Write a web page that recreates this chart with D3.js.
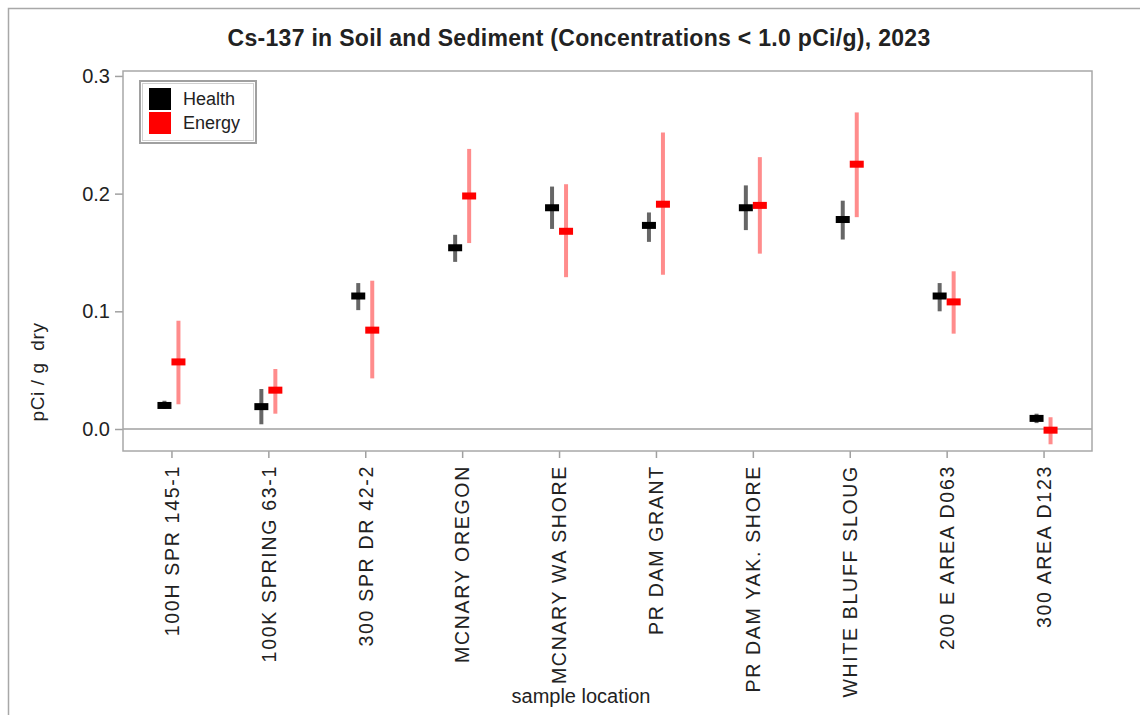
<!DOCTYPE html>
<html>
<head>
<meta charset="utf-8">
<script src="https://cdn.jsdelivr.net/npm/d3@7"></script>
<style>
  body { margin: 0; background: #fff; }
  text { font-family: "Liberation Sans", Arial, sans-serif; fill: #222; }
</style>
</head>
<body>
<div id="wrapper"></div>
<script>
// data
const locations = ["100H SPR 145-1", "100K SPRING 63-1", "300 SPR DR 42-2", "MCNARY OREGON",
  "MCNARY WA SHORE", "PR DAM GRANT", "PR DAM YAK. SHORE", "WHITE BLUFF SLOUG",
  "200 E AREA D063", "300 AREA D123"];
const healthValue = [0.020, 0.019, 0.113, 0.154, 0.188, 0.173, 0.188, 0.178, 0.113, 0.009];
const healthLow   = [0.017, 0.004, 0.101, 0.142, 0.170, 0.159, 0.169, 0.161, 0.100, 0.005];
const healthHigh  = [0.024, 0.034, 0.124, 0.165, 0.206, 0.184, 0.207, 0.194, 0.124, 0.013];
const energyValue = [0.057, 0.033, 0.084, 0.198, 0.168, 0.191, 0.190, 0.225, 0.108, -0.001];
const energyLow   = [0.021, 0.013, 0.043, 0.158, 0.129, 0.131, 0.149, 0.180, 0.081, -0.013];
const energyHigh  = [0.092, 0.051, 0.126, 0.238, 0.208, 0.252, 0.231, 0.269, 0.134, 0.010];
const yTicks = [0.0, 0.1, 0.2, 0.3];

const series = [
  { name: "Health", value: healthValue, low: healthLow, high: healthHigh, color: "#000000", bar: "rgba(0,0,0,0.6)", offset: -7 },
  { name: "Energy", value: energyValue, low: energyLow, high: energyHigh, color: "#ff0000", bar: "rgba(255,0,0,0.45)", offset: 7 }
];

const dimension = {
  width: 1140,
  height: 715,
  margin: { top: 71, left: 123, bottom: 264, right: 48 }
};
dimension.boundedWidth = dimension.width - dimension.margin.left - dimension.margin.right;
dimension.boundedHeight = dimension.height - dimension.margin.top - dimension.margin.bottom;

const wrapper = d3.select("#wrapper")
  .append("svg")
  .attr("width", dimension.width)
  .attr("height", dimension.height);

// outer frame
wrapper.append("path")
  .attr("d", `M8.5,${dimension.height} V8.5 H${dimension.width}`)
  .attr("fill", "none")
  .attr("stroke", "#a8a8a8")
  .attr("stroke-width", 1.5);

wrapper.append("text")
  .attr("x", 579)
  .attr("y", 46)
  .attr("text-anchor", "middle")
  .attr("font-weight", "bold")
  .attr("font-size", "23px")
  .attr("letter-spacing", "0.3px")
  .text("Cs-137 in Soil and Sediment (Concentrations < 1.0 pCi/g), 2023");

const bounds = wrapper.append("g")
  .attr("transform", `translate(${dimension.margin.left},${dimension.margin.top})`);

const xScaler = d3.scalePoint()
  .domain(locations)
  .range([0, dimension.boundedWidth])
  .padding(0.5);

const yScaler = d3.scaleLinear()
  .domain([-0.0187, 0.3042])
  .range([dimension.boundedHeight, 0]);

// zero reference line
bounds.append("line")
  .attr("x1", 0)
  .attr("x2", dimension.boundedWidth)
  .attr("y1", yScaler(0))
  .attr("y2", yScaler(0))
  .attr("stroke", "#a0a0a0")
  .attr("stroke-width", 1.5);

// axes
const yAxis = bounds.append("g")
  .call(d3.axisLeft(yScaler).tickValues(yTicks).tickFormat(d3.format(".1f")).tickSize(8).tickPadding(5));
const xAxis = bounds.append("g")
  .attr("transform", `translate(0,${dimension.boundedHeight})`)
  .call(d3.axisBottom(xScaler).tickSize(7).tickPadding(8));

[yAxis, xAxis].forEach(ax => {
  ax.select(".domain").remove();
  ax.selectAll(".tick line").attr("stroke", "#a0a0a0").attr("stroke-width", 1.5);
  ax.selectAll("text").attr("fill", "#222").attr("font-family", "Liberation Sans, Arial, sans-serif");
});
yAxis.selectAll("text").attr("font-size", "20px");
xAxis.selectAll("text")
  .attr("font-size", "19.5px")
  .attr("transform", "rotate(-90)")
  .attr("text-anchor", "end")
  .attr("dy", "0.35em")
  .attr("x", -14)
  .attr("y", 0)
  .attr("letter-spacing", "1.7px");

// plot frame
bounds.append("rect")
  .attr("width", dimension.boundedWidth)
  .attr("height", dimension.boundedHeight)
  .attr("fill", "none")
  .attr("stroke", "#a8a8a8")
  .attr("stroke-width", 1.5);

// error bars and markers
series.forEach(s => {
  const g = bounds.append("g");
  g.selectAll("line")
    .data(locations)
    .join("line")
    .attr("x1", (d, i) => xScaler(d) + s.offset)
    .attr("x2", (d, i) => xScaler(d) + s.offset)
    .attr("y1", (d, i) => yScaler(s.low[i]))
    .attr("y2", (d, i) => yScaler(s.high[i]))
    .attr("stroke", s.bar)
    .attr("stroke-width", 4);
  g.selectAll("rect")
    .data(locations)
    .join("rect")
    .attr("x", (d, i) => xScaler(d) + s.offset - 7)
    .attr("y", (d, i) => yScaler(s.value[i]) - 3.5)
    .attr("width", 14)
    .attr("height", 7)
    .attr("fill", s.color);
});

// legend
const legend = bounds.append("g").attr("transform", "translate(17,10)");
legend.append("rect")
  .attr("width", 116).attr("height", 62)
  .attr("fill", "#fff").attr("stroke", "#a0a0a0").attr("stroke-width", 2);
legend.append("rect")
  .attr("x", 2.5).attr("y", 2.5).attr("width", 111).attr("height", 57)
  .attr("fill", "none").attr("stroke", "#d0d0d0").attr("stroke-width", 1);
series.forEach((s, i) => {
  legend.append("rect")
    .attr("x", 9).attr("y", 7 + i * 24)
    .attr("width", 22).attr("height", 22)
    .attr("fill", s.color);
  legend.append("text")
    .attr("x", 43).attr("y", 24 + i * 24)
    .attr("font-size", "18px")
    .text(s.name);
});

// axis labels
wrapper.append("text")
  .attr("transform", "translate(44,372) rotate(-90)")
  .attr("text-anchor", "middle")
  .attr("font-size", "19px")
  .attr("letter-spacing", "0.6px")
  .attr("xml:space", "preserve")
  .text("pCi / g  dry");

wrapper.append("text")
  .attr("x", 581)
  .attr("y", 703)
  .attr("text-anchor", "middle")
  .attr("font-size", "20px")
  .text("sample location");
</script>
</body>
</html>
